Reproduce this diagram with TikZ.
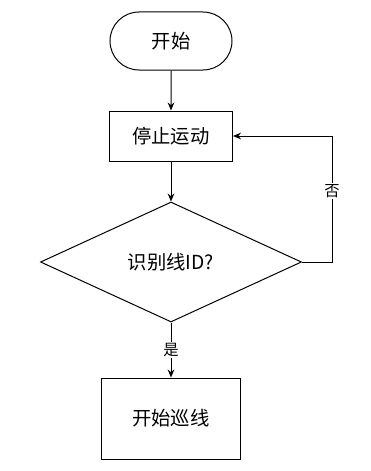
\documentclass[tikz,border=0pt]{standalone}
\usepackage{fontspec}
\setmainfont{Noto Sans CJK SC}
\usepackage{tikz}
\usetikzlibrary{positioning,arrows.meta,shapes.geometric,shapes.misc}

\begin{document}
\begin{tikzpicture}[
  node distance=30pt,
  every node/.style={font=\fontsize{14.5}{16}\selectfont},
  termbox/.style={draw, rounded rectangle, minimum width=91.5pt,
                  minimum height=43.5pt, inner sep=0pt},
  procbox/.style={draw, rectangle, minimum width=#1, inner sep=0pt},
  decbox/.style={draw, diamond, minimum width=195.75pt,
                 minimum height=90pt, inner sep=0pt},
  lbl/.style={fill=white, inner sep=1pt, font=\fontsize{11.5}{13}\selectfont},
  arr/.style={-{Stealth[length=6pt,width=5pt]}, line width=0.75pt}]

\useasboundingbox (-128.25pt,30.75pt) rectangle (150pt,-322.5pt);

\node[termbox, line width=0.75pt]                  (start) {开始};
\node[procbox=92.25pt, minimum height=37.5pt, line width=0.75pt,
      below=of start]                              (stop)  {停止运动};
\node[decbox, line width=0.75pt, below=of stop]    (check) {识别线ID?};
\node[procbox=104.25pt, minimum height=60.75pt, line width=0.75pt,
      below=41.25pt of check]                      (track) {开始巡线};

\draw[arr] (start) -- (stop);
\draw[arr] (stop)  -- (check);
\draw[arr] (check) -- node[lbl] {是} (track);

%% no line found: loop back to stop
\draw[arr] (check.east) -- ++(22.5pt,0)
    |- node[lbl, pos=0.28] {否} (stop.east);
\end{tikzpicture}
\end{document}
